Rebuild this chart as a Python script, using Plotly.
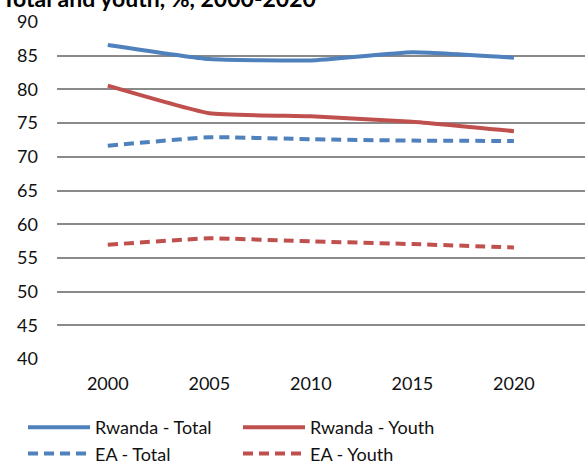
import plotly.graph_objects as go

years = ["2000", "2005", "2010", "2015", "2020"]
rwanda_total = [86.6, 84.5, 84.3, 85.5, 84.7]
rwanda_youth = [80.55, 76.45, 76.0, 75.2, 73.8]
ea_total = [71.65, 72.9, 72.6, 72.4, 72.35]
ea_youth = [56.95, 57.9, 57.45, 57.05, 56.55]
y_ticks = [40, 45, 50, 55, 60, 65, 70, 75, 80, 85, 90]
title_text = "Total and youth, %, 2000-2020"

BLUE = "#4F81BD"
RED = "#C0504D"
FONT = "Lato"

fig = go.Figure()
series = [
    ("Rwanda - Total", rwanda_total, BLUE, "solid"),
    ("Rwanda - Youth", rwanda_youth, RED, "solid"),
    ("EA - Total", ea_total, BLUE, "10px,6px"),
    ("EA - Youth", ea_youth, RED, "10px,6px"),
]
for name, vals, col, dash in series:
    fig.add_trace(go.Scatter(
        x=list(range(len(years))), y=vals, name=name, mode="lines",
        line=dict(color=col, width=4, dash=dash, shape="spline", smoothing=0.4),
    ))

fig.update_layout(
    width=585, height=463,
    margin=dict(l=57, r=0, t=22, b=104, autoexpand=False),
    paper_bgcolor="white", plot_bgcolor="white",
    font=dict(family=FONT, size=18, color="#111111"),
    showlegend=True,
    legend=dict(
        orientation="h", xref="container", x=23 / 585, xanchor="left",
        yref="container", y=1 - 409 / 463, yanchor="top",
        font=dict(size=18, color="#111111"),
        entrywidth=138, entrywidthmode="pixels",
        itemwidth=62, tracegroupgap=0,
    ),
    xaxis=dict(
        range=[-0.5, 4.7], tickmode="array",
        tickvals=list(range(len(years))), ticktext=years,
        showgrid=False, zeroline=False, showline=False,
        ticks="", ticklabelstandoff=12,
        tickfont=dict(size=18),
    ),
    yaxis=dict(
        range=[40, 90], tickmode="array", tickvals=y_ticks,
        showgrid=True, gridcolor="#8a8a8a", gridwidth=1.5,
        zeroline=False, showline=False, ticks="",
        ticklabelstandoff=18, tickfont=dict(size=18),
    ),
)

fig.add_annotation(
    text="<b>" + title_text + "</b>", xref="paper", yref="paper",
    x=-57 / 528, xanchor="left", y=1 + 8 / 337, yanchor="bottom",
    showarrow=False, font=dict(size=23, color="#000000", family=FONT),
)

fig.write_html("out.html", config={"displayModeBar": False},
               post_script="document.body.style.margin='0';")
